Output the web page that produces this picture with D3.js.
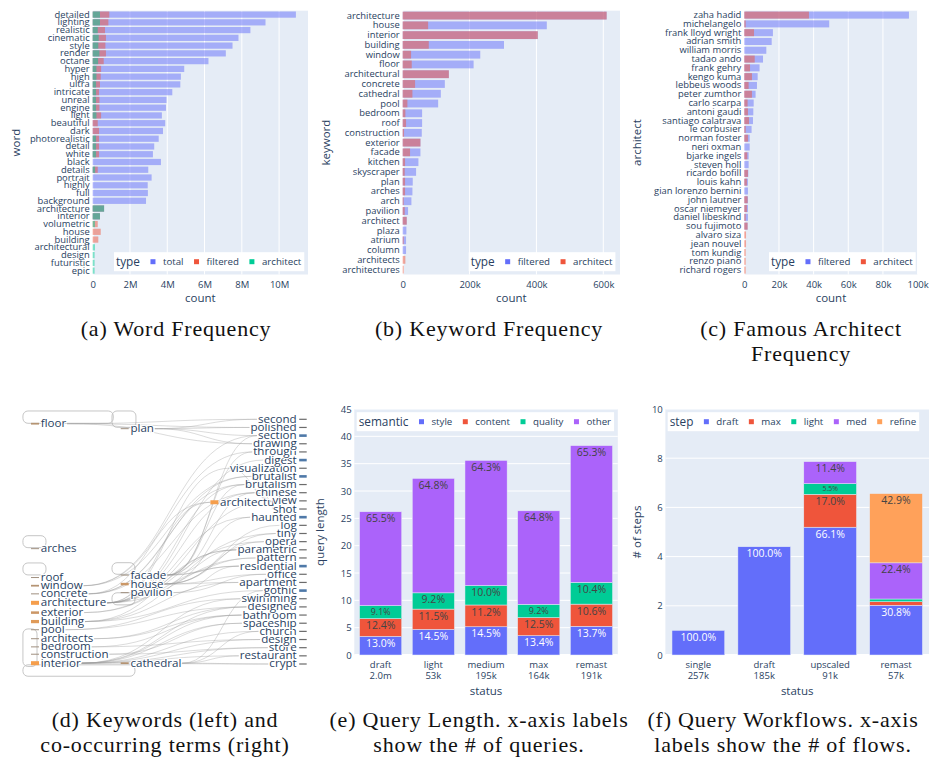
<!DOCTYPE html>
<html lang="en">
<head>
<meta charset="utf-8">
<title>Prompt statistics</title>
<script src="https://cdn.jsdelivr.net/npm/d3@7"></script>
<style>
  body { margin: 0; background: #fff; }
  svg { display: block; }
</style>
</head>
<body>
<svg id="fig" width="930" height="759"></svg>
<script>
// ---- (a) word frequency, millions ----
var wordCats = ['detailed','lighting','realistic','cinematic','style','render','octane','hyper','high','ultra',
  'intricate','unreal','engine','light','beautiful','dark','photorealistic','detail','white','black','details',
  'portrait','highly','full','background','architecture','interior','volumetric','house','building',
  'architectural','design','futuristic','epic'];
var wordTotal = [10.9, 9.27, 8.46, 7.82, 7.5, 7.14, 6.21, 4.91, 4.73, 4.7, 4.27, 3.96, 3.93, 3.71, 3.89, 3.77,
  3.54, 3.30, 3.23, 3.66, 2.98, 3.16, 2.95, 2.96, 2.86, 0.61, 0.39, 0, 0, 0, 0, 0, 0, 0];
var wordFiltered = [0.89, 0.84, 0.66, 0.71, 0.68, 0.71, 0.59, 0.45, 0.43, 0.39, 0.34, 0.36, 0.36, 0.45, 0.27, 0.34,
  0.34, 0.34, 0.34, 0, 0.27, 0, 0, 0, 0, 0.61, 0.39, 0.27, 0.43, 0.3, 0, 0, 0, 0];
var wordArchitect = [0.39, 0.39, 0.27, 0.32, 0.3, 0.36, 0.29, 0.2, 0.2, 0.18, 0.18, 0.18, 0.18, 0.2, 0, 0,
  0.18, 0.18, 0.18, 0, 0.13, 0, 0, 0, 0, 0.61, 0.39, 0.12, 0, 0, 0.12, 0.1, 0.1, 0.1];

// ---- (b) keyword frequency, thousands ----
var kwCats = ['architecture','house','interior','building','window','floor','architectural','concrete','cathedral',
  'pool','bedroom','roof','construction','exterior','facade','kitchen','skyscraper','plan','arches','arch',
  'pavilion','architect','plaza','atrium','column','architects','architectures'];
var kwFiltered = [610, 431, 404, 303, 232, 212, 138, 126, 114, 106, 58, 58, 57, 53, 53, 47, 40, 30, 29, 26, 16, 12, 11, 10, 10, 0, 0];
var kwArchitect = [610, 76, 404, 78, 25, 27, 138, 37, 29, 14, 8, 10, 4, 53, 22, 7, 6, 7, 7, 3, 6, 12, 0, 3, 0, 8, 3];

// ---- (c) famous architects, thousands ----
var archCats = ['zaha hadid','michelangelo','frank lloyd wright','adrian smith','william morris','tadao ando',
  'frank gehry','kengo kuma','lebbeus woods','peter zumthor','carlo scarpa','antoni gaudi','santiago calatrava',
  'le corbusier','norman foster','neri oxman','bjarke ingels','steven holl','ricardo bofill','louis kahn',
  'gian lorenzo bernini','john lautner','oscar niemeyer','daniel libeskind','sou fujimoto','alvaro siza',
  'jean nouvel','tom kundig','renzo piano','richard rogers'];
var archFiltered = [95, 49, 16.5, 15.8, 12.7, 10.8, 8.8, 7.7, 7.3, 6.5, 5.4, 5.2, 5.0, 4.2, 3.1, 3.1, 2.5, 2.5,
  2.3, 2.1, 2.1, 2.1, 2.1, 2.1, 1.9, 0, 0, 0, 0, 0];
var archArchitect = [37.3, 0.8, 5.6, 0, 0, 6.0, 3.3, 4.4, 2.5, 4.4, 1.9, 2.1, 2.7, 0.8, 2.1, 0, 1.7, 0, 2.1, 1.5,
  0, 1.9, 1.5, 0.8, 1.9, 1.0, 1.0, 0.8, 0.8, 0.8];

// ---- (d) keywords and co-occurring terms ----
var coTerms = ['second','polished','section','drawing','through','digest','visualization','brutalist','brutalism',
  'chinese','view','shot','haunted','log','tiny','opera','parametric','pattern','residential','office','apartment',
  'gothic','swimming','designed','bathroom','spaceship','church','design','store','restaurant','crypt'];
var coTermWeight = [1,1,2,1,1,2,1,2,1,1,1,1,2,1,1,1,1,1,2,1,1,2,1,1,1,1,1,1,1,1,1];
var kwNodes = ['floor','arches','roof','window','concrete','architecture','exterior','building','pool','architects',
  'bedroom','construction','interior','plan','architectu','facade','house','pavilion','cathedral'];
var kwNodeDepth = [0,0,0,0,0,0,0,0,0,0,0,0,0,1,2,1,1,1,1];
var kwNodeSlot = [0.54, 15.86, 19.4, 20.4, 21.4, 22.5, 23.7, 24.8, 25.8, 26.9, 27.9, 28.8, 29.9,
  1.15, 10.17, 19.1, 20.2, 21.25, 29.9];
var kwNodeWeight = [2,1,1,2,1,5,3,4,1,1,1,1,5,1,5,1,3,1,2];
var coLinks = [
  ['floor','second'],['floor','polished'],['floor','drawing'],
  ['plan','second'],['plan','polished'],['plan','section'],['plan','drawing'],
  ['window','section'],['window','through'],['window','brutalist'],
  ['concrete','brutalism'],['concrete','brutalist'],['concrete','chinese'],['concrete','architectu'],
  ['architecture','digest'],['architecture','visualization'],['architecture','brutalism'],['architecture','chinese'],
  ['architecture','view'],['architecture','haunted'],['architecture','parametric'],['architecture','pattern'],
  ['architecture','architectu'],
  ['exterior','residential'],['exterior','opera'],
  ['building','tiny'],['building','parametric'],['building','apartment'],['building','gothic'],
  ['architectu','brutalist'],['architectu','brutalism'],['architectu','chinese'],['architectu','view'],
  ['architectu','shot'],['architectu','visualization'],
  ['facade','brutalism'],['facade','chinese'],['facade','pattern'],['facade','residential'],['facade','parametric'],
  ['facade','through'],['facade','section'],
  ['house','log'],['house','tiny'],['house','haunted'],['house','office'],['house','apartment'],['house','opera'],
  ['pavilion','office'],['pavilion','residential'],
  ['pool','swimming'],['pool','designed'],
  ['architects','designed'],['architects','bathroom'],
  ['bedroom','bathroom'],['bedroom','design'],
  ['construction','spaceship'],['construction','store'],
  ['interior','designed'],['interior','bathroom'],['interior','spaceship'],['interior','church'],['interior','design'],
  ['interior','store'],['interior','restaurant'],['interior','crypt'],['interior','swimming'],
  ['cathedral','crypt'],['cathedral','gothic'],['cathedral','church'],['cathedral','restaurant']
];
// group outlines: [depth from, depth to, slot from, slot to]
var groupBoxes = [[-0.09, 0.917, -1.02, 0.49], [0.903, 1.17, -1.02, 0.98], [-0.09, 0.167, 14.27, 15.74],
  [-0.09, 0.167, 17.61, 19.08], [0.903, 1.159, 17.58, 19.0], [0.903, 1.159, 21.27, 22.75],
  [-0.09, 0.067, 25.7, 30.3], [-0.09, 1.159, 30.1, 31.5]];

// ---- (e) query length ----
var qlStatus = ['draft','light','medium','max','remast'];
var qlQueries = ['2.0m','53k','195k','164k','191k'];
var qlLength = [26.2, 32.3, 35.6, 26.4, 38.3];
var qlStyle = [13.0, 14.5, 14.5, 13.4, 13.7];
var qlContent = [12.4, 11.5, 11.2, 12.5, 10.6];
var qlQuality = [9.1, 9.2, 10.0, 9.2, 10.4];
var qlOther = [65.5, 64.8, 64.3, 64.8, 65.3];

// ---- (f) query workflows ----
var wfType = ['single','draft','upscaled','remast'];
var wfFlows = ['257k','185k','91k','57k'];
var wfSteps = [1.0, 4.4, 7.86, 6.56];
var wfDraft = [100.0, 100.0, 66.1, 30.8];
var wfMax = [0, 0, 17.0, 2.2];
var wfLight = [0, 0, 5.5, 1.7];
var wfMed = [0, 0, 11.4, 22.4];
var wfRefine = [0, 0, 0, 42.9];

var FONT = '"Open Sans", sans-serif';
var INK = '#2a3f5f';
var BG = '#e5ecf6';
var BLUE = '#636efa', RED = '#ef553b', GREEN = '#00cc96', PURPLE = '#ab63fa', ORANGE = '#ffa15a';

var svg = d3.select('#fig').attr('font-family', FONT);
svg.append('rect').attr('width', 930).attr('height', 759).attr('fill', '#fff');

function legend(g, x, yc, title, items) {
  var lg = g.append('g');
  var box = lg.append('rect').attr('fill', '#fff');
  var t = lg.append('text').attr('x', x + 2).attr('y', yc).attr('dy', '0.33em')
    .attr('fill', INK).style('font-size', '11.8px').text(title);
  var cx = x + 2 + t.node().getComputedTextLength();
  items.forEach(function(it) {
    cx += 13;
    lg.append('rect').attr('x', cx - 2.5).attr('y', yc - 2.5).attr('width', 5).attr('height', 5).attr('fill', it.color);
    var tt = lg.append('text').attr('x', cx + 10).attr('y', yc).attr('dy', '0.33em')
      .attr('fill', INK).style('font-size', '9.7px').text(it.name);
    cx = cx + 10 + tt.node().getComputedTextLength();
  });
  box.attr('x', x).attr('y', yc - 9.5).attr('width', cx + 3 - x).attr('height', 19);
}

function hbarPanel(c) {
  var g = svg.append('g');
  var x = d3.scaleLinear().domain([0, c.xMax]).range([c.left, c.right]);
  var y = d3.scaleBand().domain(c.cats).range([c.top, c.bottom]).paddingInner(0.2).paddingOuter(0.1);
  g.append('rect').attr('x', c.left).attr('y', c.top).attr('width', c.right - c.left)
    .attr('height', c.bottom - c.top).attr('fill', BG);
  g.selectAll('line.grid').data(c.ticks).join('line')
    .attr('x1', function(d) { return x(d); }).attr('x2', function(d) { return x(d); })
    .attr('y1', c.top).attr('y2', c.bottom).attr('stroke', '#fff')
    .attr('stroke-width', function(d) { return d === 0 ? 2 : 1; });
  c.series.forEach(function(s) {
    g.append('g').selectAll('rect')
      .data(c.cats.map(function(k, i) { return { k: k, v: s.values[i] }; }))
      .join('rect')
      .attr('x', x(0)).attr('y', function(d) { return y(d.k); })
      .attr('width', function(d) { return Math.max(0, x(d.v) - x(0)); })
      .attr('height', y.bandwidth()).attr('fill', s.color).attr('fill-opacity', 0.5);
  });
  var ya = g.append('g').attr('transform', 'translate(' + c.left + ',0)')
    .call(d3.axisLeft(y).tickSize(0).tickPadding(3));
  ya.select('.domain').remove();
  ya.attr('font-family', FONT).attr('font-size', 9.4).selectAll('text').attr('fill', INK);
  var xa = g.append('g').attr('transform', 'translate(0,' + c.bottom + ')')
    .call(d3.axisBottom(x).tickValues(c.ticks).tickFormat(c.fmt).tickSize(0).tickPadding(6.3));
  xa.select('.domain').remove();
  xa.attr('font-family', FONT).attr('font-size', 9.5).selectAll('text').attr('fill', INK);
  g.append('text').attr('transform', 'translate(' + c.yTitleX + ',' + (c.top + c.bottom) / 2 + ') rotate(-90)')
    .attr('text-anchor', 'middle').attr('fill', INK).style('font-size', '11.5px').text(c.yTitle);
  g.append('text').attr('x', (c.left + c.right) / 2).attr('y', 302).attr('text-anchor', 'middle')
    .attr('fill', INK).style('font-size', '11.5px').text('count');
  legend(g, c.legendX, 261.7, 'type', c.series.map(function(s) { return { name: s.name, color: s.color }; }));
}

function stackPanel(c) {
  var g = svg.append('g');
  var x = d3.scaleBand().domain(c.cats).range([c.left, c.right]).paddingInner(0.2).paddingOuter(0.1);
  var y = d3.scaleLinear().domain([0, c.yMax]).range([c.bottom, c.top]);
  g.append('rect').attr('x', c.left).attr('y', c.top).attr('width', c.right - c.left)
    .attr('height', c.bottom - c.top).attr('fill', BG);
  g.selectAll('line.grid').data(c.yTicks).join('line')
    .attr('x1', c.left).attr('x2', c.right)
    .attr('y1', function(d) { return y(d); }).attr('y2', function(d) { return y(d); })
    .attr('stroke', '#fff').attr('stroke-width', function(d) { return d === 0 ? 2 : 1; });
  var base = c.cats.map(function() { return 0; });
  c.series.forEach(function(s) {
    var rows = c.cats.map(function(k, i) {
      var v = c.totals[i] * s.pct[i] / 100;
      var r = { k: k, y0: base[i], y1: base[i] + v, p: s.pct[i] };
      base[i] += v;
      return r;
    }).filter(function(r) { return r.p > 0; });
    var sg = g.append('g');
    sg.selectAll('rect').data(rows).join('rect')
      .attr('x', function(d) { return x(d.k); }).attr('width', x.bandwidth())
      .attr('y', function(d) { return y(d.y1); })
      .attr('height', function(d) { return y(d.y0) - y(d.y1); })
      .attr('fill', s.color).attr('stroke', BG).attr('stroke-width', 0.5);
    sg.selectAll('text').data(rows.filter(function(d) { return y(d.y0) - y(d.y1) > 5.5; })).join('text')
      .each(function(d) {
        var h = y(d.y0) - y(d.y1);
        var fs = Math.min(10.5, (h - 2) * 0.8);
        var pad = Math.min(3, (h - 0.72 * fs) / 2);
        d3.select(this).attr('x', x(d.k) + x.bandwidth() / 2).attr('y', y(d.y1) + pad + 0.72 * fs)
          .style('font-size', fs + 'px');
      })
      .attr('text-anchor', 'middle').attr('fill', s.textColor)
      .text(function(d) { return d.p.toFixed(1) + '%'; });
  });
  var ya = g.append('g').attr('transform', 'translate(' + c.left + ',0)')
    .call(d3.axisLeft(y).tickValues(c.yTicks).tickFormat(d3.format('d')).tickSize(0).tickPadding(2.6));
  ya.select('.domain').remove();
  ya.attr('font-family', FONT).attr('font-size', 9.5).selectAll('text').attr('fill', INK);
  var xt = g.append('g').selectAll('text').data(c.cats).join('text')
    .attr('text-anchor', 'middle').attr('fill', INK).style('font-size', '9.5px');
  xt.append('tspan').attr('x', function(d) { return x(d) + x.bandwidth() / 2; }).attr('y', c.bottom + 12.5)
    .text(function(d) { return d; });
  xt.append('tspan').attr('x', function(d) { return x(d) + x.bandwidth() / 2; }).attr('y', c.bottom + 23.7)
    .text(function(d, i) { return c.sub[i]; });
  g.append('text').attr('transform', 'translate(' + c.yTitleX + ',' + (c.top + c.bottom) / 2 + ') rotate(-90)')
    .attr('text-anchor', 'middle').attr('fill', INK).style('font-size', '11.5px').text(c.yTitle);
  g.append('text').attr('x', (c.left + c.right) / 2).attr('y', 695).attr('text-anchor', 'middle')
    .attr('fill', INK).style('font-size', '11.5px').text('status');
  legend(g, c.legendX, 421.7, c.legendTitle, c.series.map(function(s) { return { name: s.name, color: s.color }; }));
}

// (a)
hbarPanel({
  left: 92.7, right: 308, top: 10.7, bottom: 274.5, cats: wordCats, xMax: 11.55,
  ticks: [0, 2, 4, 6, 8, 10], fmt: function(d) { return d === 0 ? '0' : d + 'M'; },
  series: [{ name: 'total', values: wordTotal, color: BLUE },
           { name: 'filtered', values: wordFiltered, color: RED },
           { name: 'architect', values: wordArchitect, color: GREEN }],
  yTitle: 'word', yTitleX: 20, legendX: 114
});
// (b)
hbarPanel({
  left: 402.7, right: 620, top: 10.7, bottom: 274.5, cats: kwCats, xMax: 650,
  ticks: [0, 200, 400, 600], fmt: function(d) { return d === 0 ? '0' : d + 'k'; },
  series: [{ name: 'filtered', values: kwFiltered, color: BLUE },
           { name: 'architect', values: kwArchitect, color: RED }],
  yTitle: 'keyword', yTitleX: 329.5, legendX: 468.7
});
// (c)
hbarPanel({
  left: 744.3, right: 917.6, top: 10.7, bottom: 274.5, cats: archCats, xMax: 100,
  ticks: [0, 20, 40, 60, 80, 100], fmt: function(d) { return d === 0 ? '0' : d + 'k'; },
  series: [{ name: 'filtered', values: archFiltered, color: BLUE },
           { name: 'architect', values: archArchitect, color: RED }],
  yTitle: 'architect', yTitleX: 640.5, legendX: 769
});

// (e)
stackPanel({
  left: 354.3, right: 617.8, top: 409, bottom: 655, cats: qlStatus, sub: qlQueries, totals: qlLength,
  yMax: 45, yTicks: [0, 5, 10, 15, 20, 25, 30, 35, 40, 45], yTitle: 'query length', yTitleX: 324.2,
  legendX: 356.7, legendTitle: 'semantic',
  series: [{ name: 'style', pct: qlStyle, color: BLUE, textColor: '#fff' },
           { name: 'content', pct: qlContent, color: RED, textColor: '#444' },
           { name: 'quality', pct: qlQuality, color: GREEN, textColor: '#444' },
           { name: 'other', pct: qlOther, color: PURPLE, textColor: '#444' }]
});
// (f)
stackPanel({
  left: 665.4, right: 929, top: 409, bottom: 655, cats: wfType, sub: wfFlows, totals: wfSteps,
  yMax: 10, yTicks: [0, 2, 4, 6, 8, 10], yTitle: '# of steps', yTitleX: 640.5,
  legendX: 667.7, legendTitle: 'step',
  series: [{ name: 'draft', pct: wfDraft, color: BLUE, textColor: '#fff' },
           { name: 'max', pct: wfMax, color: RED, textColor: '#444' },
           { name: 'light', pct: wfLight, color: GREEN, textColor: '#444' },
           { name: 'med', pct: wfMed, color: PURPLE, textColor: '#444' },
           { name: 'refine', pct: wfRefine, color: ORANGE, textColor: '#444' }]
});

// (d) keyword graph
(function() {
  var g = svg.append('g');
  var xd = d3.scaleLinear().domain([0, 2]).range([31, 210.4]);
  var yd = d3.scaleLinear().domain([0, 30]).range([419.3, 664]);
  var termX = 296.7;
  var wt = d3.scaleLinear().domain([1, 5]).range([1, 4]);
  var wc = d3.scaleLinear().domain([1, 5]).range(['#a09080', '#f59e4c']);

  g.append('g').selectAll('rect').data(groupBoxes).join('rect')
    .attr('x', function(d) { return xd(d[0]); }).attr('y', function(d) { return yd(d[2]); })
    .attr('width', function(d) { return xd(d[1]) - xd(d[0]); })
    .attr('height', function(d) { return yd(d[3]) - yd(d[2]); })
    .attr('rx', 5).attr('fill', 'none').attr('stroke', '#c6c6c6').attr('stroke-width', 1);

  var linkG = g.append('g');
  var markG = g.append('g');
  var labelG = g.append('g').style('font-size', '11.6px').attr('fill', INK)
    .attr('stroke', '#fff').attr('stroke-width', 2.2).attr('paint-order', 'stroke');

  var ends = {};
  var nodes = kwNodes.map(function(n, i) {
    return { name: n, x: xd(kwNodeDepth[i]), y: yd(kwNodeSlot[i]), w: kwNodeWeight[i] };
  });
  var terms = coTerms.map(function(n, i) { return { name: n, y: yd(i), w: coTermWeight[i] }; });

  markG.selectAll('rect.node').data(nodes).join('rect')
    .attr('x', function(d) { return d.x; }).attr('width', 8)
    .attr('y', function(d) { return d.y - wt(d.w) / 2; }).attr('height', function(d) { return wt(d.w); })
    .attr('fill', function(d) { return wc(d.w); });
  markG.selectAll('rect.term').data(terms).join('rect')
    .attr('x', termX + 2.5).attr('width', 7.5)
    .attr('y', function(d) { return d.y - (d.w > 1 ? 1.3 : 0.6); })
    .attr('height', function(d) { return d.w > 1 ? 2.6 : 1.2; })
    .attr('fill', function(d) { return d.w > 1 ? '#4f79a8' : '#6b6b6b'; });

  // bottom rows first so upper labels sit on top
  nodes.slice().sort(function(a, b) { return b.y - a.y; }).forEach(function(d) {
    var t = labelG.append('text').attr('x', d.x + 9.7).attr('y', d.y).attr('dy', '0.3em').text(d.name);
    ends[d.name] = { out: [d.x + 10.5 + t.node().getComputedTextLength(), d.y], inn: [d.x, d.y] };
  });
  terms.slice().reverse().forEach(function(d) {
    var t = labelG.append('text').attr('x', termX).attr('y', d.y).attr('dy', '0.3em')
      .attr('text-anchor', 'end').text(d.name);
    ends[d.name] = { inn: [termX - t.node().getComputedTextLength() - 1, d.y] };
  });

  linkG.selectAll('path').data(coLinks).join('path')
    .attr('d', function(l) {
      var s = ends[l[0]].out, t = ends[l[1]].inn, m = (s[0] + t[0]) / 2;
      return 'M' + s[0] + ',' + s[1] + 'C' + m + ',' + s[1] + ' ' + m + ',' + t[1] + ' ' + t[0] + ',' + t[1];
    })
    .attr('fill', 'none').attr('stroke', '#9a9a9a').attr('stroke-opacity', 0.45).attr('stroke-width', 0.8);
})();

// captions
var captions = [
  { x: 176, y: 336, lines: ['(a) Word Frequency'] },
  { x: 489, y: 336, lines: ['(b) Keyword Frequency'] },
  { x: 801, y: 336, lines: ['(c) Famous Architect', 'Frequency'] },
  { x: 165, y: 727, lines: ['(d) Keywords (left) and', 'co-occurring terms (right)'] },
  { x: 479, y: 727, lines: ['(e) Query Length. x-axis labels', 'show the # of queries.'] },
  { x: 783, y: 727, lines: ['(f) Query Workflows. x-axis', 'labels show the # of flows.'] }
];
var cap = svg.append('g').attr('font-family', '"Liberation Serif", serif').style('font-size', '22px')
  .style('letter-spacing', '0.8px').attr('fill', '#111').attr('text-anchor', 'middle');
captions.forEach(function(c) {
  c.lines.forEach(function(l, i) {
    cap.append('text').attr('x', c.x).attr('y', c.y + i * 24.5).text(l);
  });
});
</script>
</body>
</html>
